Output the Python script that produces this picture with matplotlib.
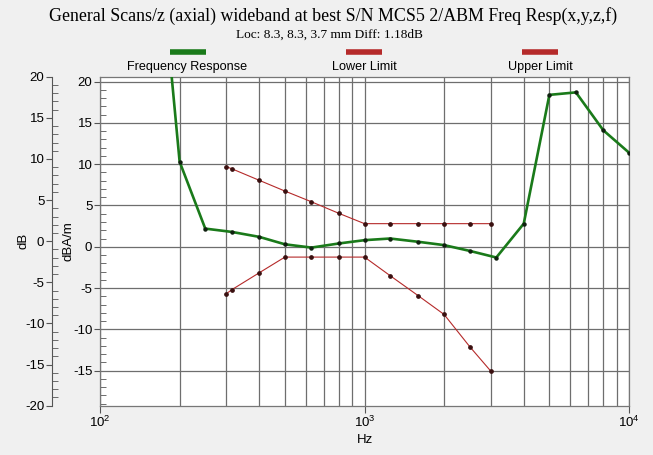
import matplotlib
matplotlib.use("Agg")
import matplotlib.pyplot as plt
from matplotlib.lines import Line2D
from matplotlib.ticker import MultipleLocator, LogLocator, NullFormatter

plt.rcParams["axes.unicode_minus"] = False

# -------------------------------
# DATA (third-octave bands, Hz / dB)
# -------------------------------
resp_freq = [160, 200, 250, 315, 400, 500, 630, 800, 1000, 1250, 1600,
             2000, 2500, 3150, 4000, 5000, 6300, 8000, 10000]
resp_db = [43.5, 10.3, 2.2, 1.8, 1.2, 0.3, -0.1, 0.4, 0.8, 1.0, 0.6,
           0.2, -0.5, -1.3, 2.8, 18.4, 18.7, 14.1, 11.4]

upper_freq = [300, 315, 400, 500, 630, 800, 1000, 1250, 1600, 2000, 2500, 3000]
upper_db = [9.7, 9.45, 8.05, 6.75, 5.45, 4.05, 2.8, 2.8, 2.8, 2.8, 2.8, 2.8]

lower_freq = [300, 315, 400, 500, 630, 800, 1000, 1250, 1600, 2000, 2500, 3000]
lower_db = [-5.7, -5.2, -3.15, -1.25, -1.25, -1.25, -1.25, -3.5, -5.95, -8.2, -12.1, -15.05]

title = "General Scans/z (axial) wideband at best S/N MCS5 2/ABM Freq Resp(x,y,z,f)"
subtitle = "Loc: 8.3, 8.3, 3.7 mm Diff: 1.18dB"
legend_labels = ["Frequency Response", "Lower Limit", "Upper Limit"]

# -------------------------------
# FIGURE SETUP
# -------------------------------
W, H = 653, 455
green = "#1a7a1a"
red = "#b52a2a"
grid_col = "#6e6e6e"
sans = "Liberation Sans"
tick_fs = 9.5

fig = plt.figure(figsize=(W / 100, H / 100), dpi=100, facecolor="#f0f0f0")
left, right, top, bottom = 100, 629, 76.7, 405.7
rect = [left / W, 1 - bottom / H, (right - left) / W, (bottom - top) / H]

# outer "dB" scale (just an axis, no data)
ax2 = fig.add_axes(rect, facecolor="none", zorder=0)
ax2.set_ylim(-20, 20)
ax2.set_xticks([])
for s in ["top", "right", "bottom"]:
    ax2.spines[s].set_visible(False)
ax2.spines["left"].set_position(("outward", 48 * 0.72))
ax2.spines["left"].set_color("#555555")
ax2.yaxis.set_major_locator(MultipleLocator(5))
ax2.yaxis.set_minor_locator(MultipleLocator(1))
ax2.tick_params(axis="y", which="major", direction="out", length=4, color="#555555",
                labelsize=tick_fs, pad=1.5)
ax2.tick_params(axis="y", which="minor", direction="in", length=4, color="#555555")
for t in ax2.get_yticklabels():
    t.set_family(sans)
ax2.set_ylabel("dB", fontsize=tick_fs, family=sans, labelpad=-3)

# main axes
ax = fig.add_axes(rect, facecolor="white", zorder=1)
ax.set_xscale("log")
ax.set_xlim(100, 10000)
ax.set_ylim(-19.25, 20.6)

ax.plot(upper_freq, upper_db, color=red, lw=0.8, marker="o", ms=2.4,
        mfc="#3a1010", mec="#3a1010", zorder=3)
ax.plot(lower_freq, lower_db, color=red, lw=0.8, marker="o", ms=2.4,
        mfc="#3a1010", mec="#3a1010", zorder=3)
ax.plot(resp_freq, resp_db, color=green, lw=1.9, marker="o", ms=2.2,
        mfc="#102010", mec="#102010", zorder=4)

ax.yaxis.set_major_locator(MultipleLocator(5))
ax.yaxis.set_minor_locator(MultipleLocator(1))
ax.set_yticks([-15, -10, -5, 0, 5, 10, 15, 20])
ax.xaxis.set_major_locator(LogLocator(base=10, numticks=5))
ax.xaxis.set_minor_locator(LogLocator(base=10, subs=range(2, 10), numticks=20))
ax.xaxis.set_minor_formatter(NullFormatter())

ax.grid(True, which="major", axis="y", color=grid_col, lw=0.9)
ax.grid(True, which="both", axis="x", color=grid_col, lw=0.9)
ax.set_axisbelow(True)

ax.tick_params(axis="y", which="major", direction="out", length=4, color="#555555",
               labelsize=tick_fs, pad=1.5)
ax.tick_params(axis="y", which="minor", direction="in", length=4, color="#555555")
ax.tick_params(axis="x", which="major", direction="out", length=5, color="#555555",
               labelsize=tick_fs, pad=1.5)
ax.tick_params(axis="x", which="minor", length=0)
for t in ax.get_yticklabels() + ax.get_xticklabels():
    t.set_family(sans)
for s in ax.spines.values():
    s.set_color("#777777")
    s.set_linewidth(0.9)

ax.set_xlabel("Hz", fontsize=tick_fs, family=sans, labelpad=3)
ax.set_ylabel("dBA/m", fontsize=tick_fs, family=sans, labelpad=-1)

# -------------------------------
# TITLES
# -------------------------------
fig.text(333 / W, 1 - 16 / H, title, ha="center", va="center",
         family="Liberation Serif", fontsize=12.9)
fig.text(329 / W, 1 - 35 / H, subtitle, ha="center", va="center",
         family="Liberation Serif", fontsize=9.6)

# -------------------------------
# LEGEND (colour bar above each label)
# -------------------------------
leg_x = [187.5, 364, 540]
leg_c = [green, red, red]
for lab, xc, c in zip(legend_labels, leg_x, leg_c):
    fig.add_artist(Line2D([(xc - 18) / W, (xc + 18) / W], [1 - 51.5 / H] * 2,
                          color=c, lw=4, solid_capstyle="butt"))
    fig.text(xc / W, 1 - 67 / H, lab, ha="center", va="center",
             family=sans, fontsize=9.1)

fig.savefig("out.png", dpi=100, facecolor=fig.get_facecolor())
